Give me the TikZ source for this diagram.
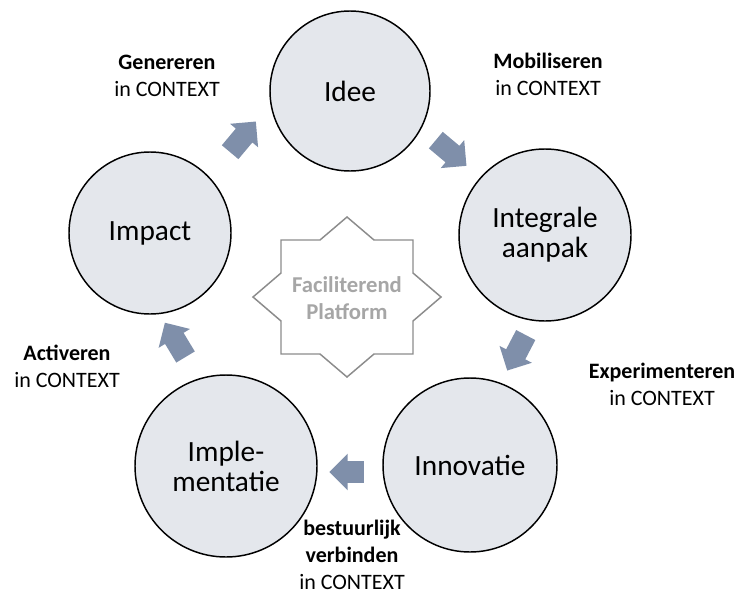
\documentclass[tikz,border=0pt]{standalone}
\usepackage{fontspec}
\setmainfont{Carlito}
\usetikzlibrary{shapes.arrows}
\definecolor{stagefill}{RGB}{228,231,236}
\definecolor{flowblue}{RGB}{127,143,170}
\definecolor{stargrey}{RGB}{140,140,140}
\definecolor{startext}{RGB}{166,166,166}
\begin{document}
\begin{tikzpicture}[x=0.75pt,y=-0.75pt,
    stage/.style={circle,draw,fill=stagefill,line width=1.1pt,align=center,inner sep=0pt,font=\fontsize{22}{22.5}\selectfont},
    flow/.style={single arrow,fill=flowblue,inner xsep=0pt,inner ysep=7.9pt,minimum height=30pt,single arrow head extend=5.6pt},
    tag/.style={align=center,font=\fontsize{16.5}{20.25}\selectfont}]
  \useasboundingbox (0,0) rectangle (742,596);

  \draw[stargrey,fill=white,line width=1.1pt,shift={(347,297)}] (0,-80) -- (27,-57) -- (66,-57) -- (66,-24) -- (94,0) -- (66,24) -- (66,57) -- (27,57) -- (0,80) -- (-27,57) -- (-66,57) -- (-66,24) -- (-94,0) -- (-66,-24) -- (-66,-57) -- (-27,-57) -- cycle;
  \node[text=startext,align=center,font=\bfseries\fontsize{17}{20.5}\selectfont] (platform) at (347,298) {Faciliterend\\Platform};

  \node[stage,minimum size=120pt] (idee) at (350,91) {Idee};
  \node[stage,minimum size=129pt] (integraal) at (545,235) {Integrale\\aanpak};
  \node[stage,minimum size=130.5pt] (innovatie) at (470,465) {Innovatie};
  \node[stage,minimum size=136.5pt] (implementatie) at (226,466) {Imple-\\mentatie};
  \node[stage,minimum size=121.5pt] (impact) at (150,233) {Impact};

  \node[flow,rotate=50] (genpijl) at (239.5,141) {};
  \node[flow,rotate=-40] (mobpijl) at (447,149.5) {};
  \node[flow,rotate=-117.6] (exppijl) at (519,348) {};
  \node[flow,rotate=180,minimum height=26pt] (verpijl) at (352,472) {};
  \node[flow,rotate=121] (actpijl) at (178,344.5) {};

  \node[tag] (genereren) at (167,76) {\textbf{Genereren}\\in CONTEXT};
  \node[tag] (mobiliseren) at (548,74) {\textbf{Mobiliseren}\\in CONTEXT};
  \node[tag] (experimenteren) at (662,384) {\textbf{Experimenteren}\\in CONTEXT};
  \node[tag] (verbinden) at (352,555) {\textbf{bestuurlijk}\\\textbf{verbinden}\\in CONTEXT};
  \node[tag] (activeren) at (67,366) {\textbf{Activeren}\\in CONTEXT};
\end{tikzpicture}
\end{document}
